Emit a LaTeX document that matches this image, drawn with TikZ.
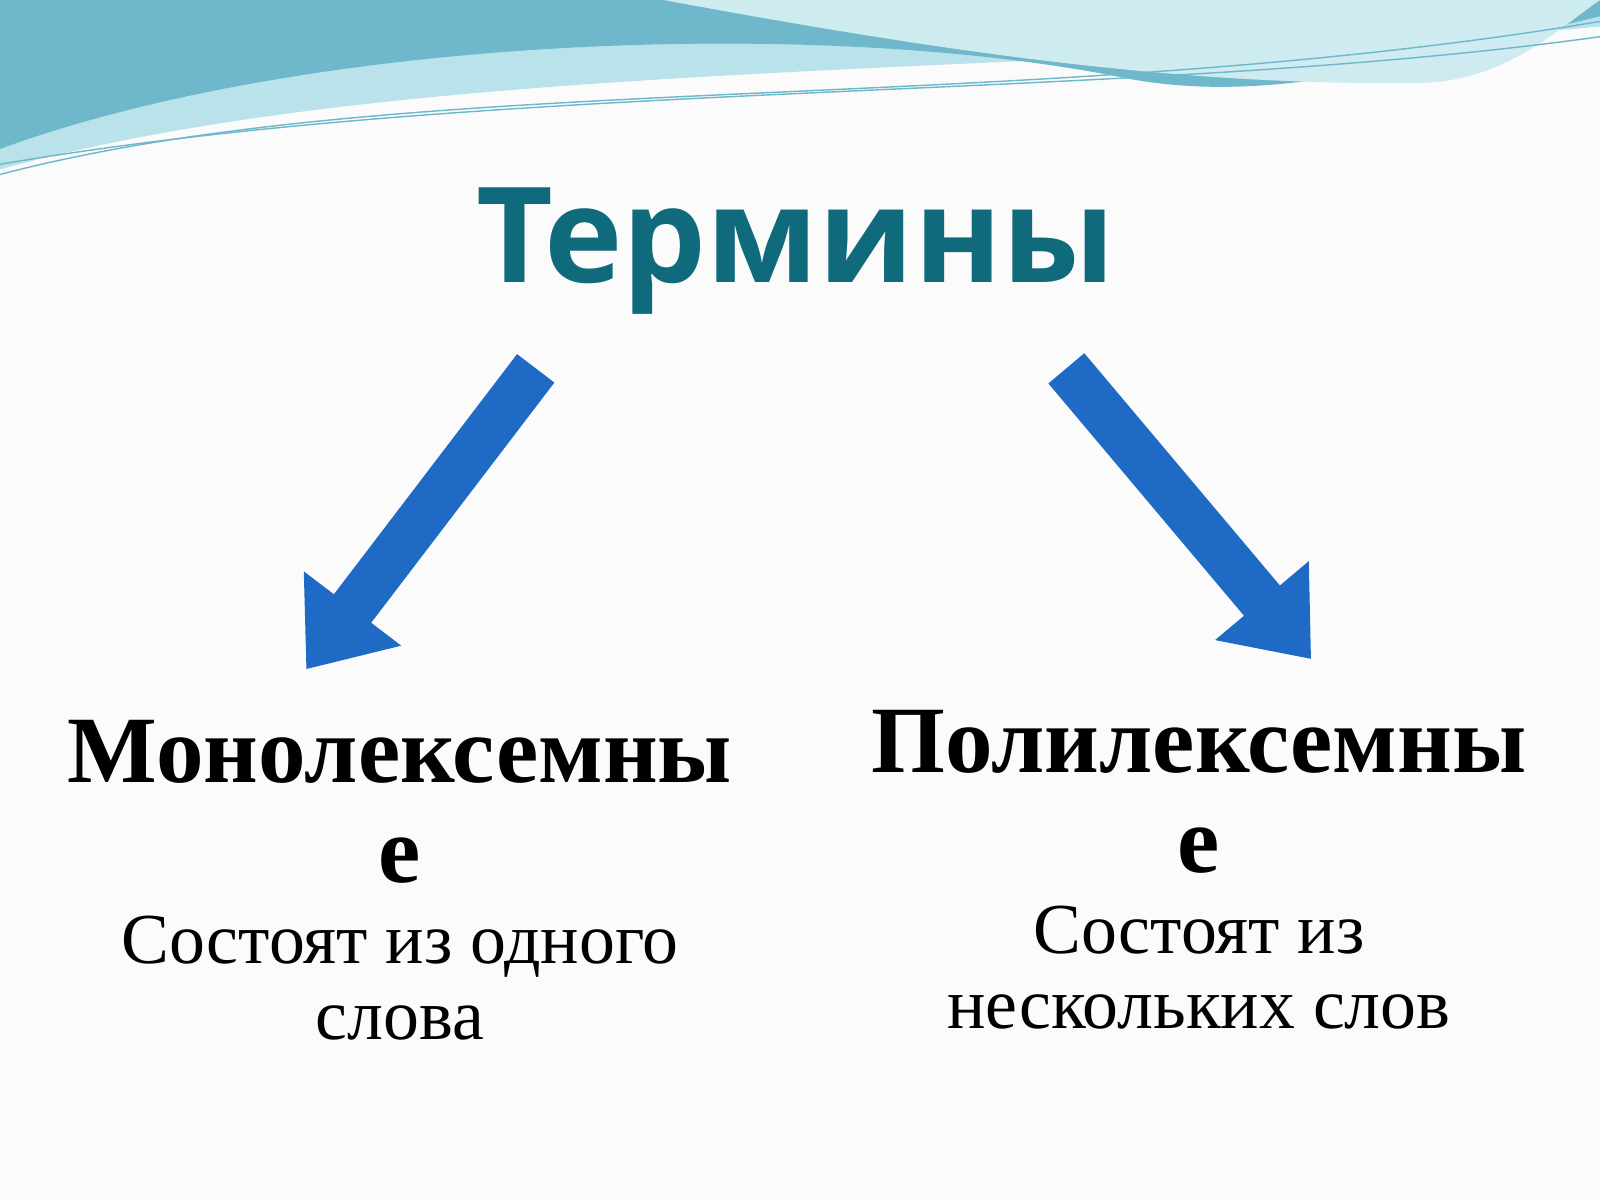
\documentclass[tikz,border=0pt]{standalone}
\usepackage{fontspec}
\setmainfont{Liberation Serif}
\newfontfamily\titlefont{Open Sans}
\usetikzlibrary{arrows.meta, positioning}
\definecolor{wavedark}{HTML}{6FB8CC}
\definecolor{wavelight}{HTML}{B9E2EA}
\definecolor{titleteal}{HTML}{0F6B7B}
\definecolor{arrowblue}{HTML}{1E6AC4}
\tikzset{
  big arrow/.style={line width=0.46cm, arrowblue, -{Triangle[width=1.15cm, length=0.75cm]}},
  head/.style={font=\bfseries\fontsize{26.5}{30}\selectfont, align=center},
  note/.style={font=\fontsize{20}{21}\selectfont, align=center}
}
\begin{document}
\begin{tikzpicture}
    \useasboundingbox[fill=white!97!gray] (0,0) rectangle (15.68,11.76);
    % waves at the top
    \fill[wavelight] (0,11.76) -- (0,10.1) .. controls (4,11.2) and (10,11.0) .. (15.68,11.5) -- (15.68,11.76) -- cycle;
    \fill[wavedark] (0,11.76) -- (0,10.3) .. controls (3,11.4) and (8,11.6) .. (11,11.0) .. controls (12.5,10.7) and (14,11.2) .. (15.68,11.6) -- (15.68,11.76) -- cycle;
    \fill[wavelight!70!white] (6.5,11.76) .. controls (9,11.3) and (11.5,10.9) .. (14,10.95) .. controls (14.8,11.0) and (15.3,11.5) .. (15.68,11.76) -- cycle;
    \draw[wavedark, thin] (0,10.05) .. controls (4,11.1) and (10,10.6) .. (15.68,11.55);
    \draw[wavedark, thin] (0,10.15) .. controls (5,11.0) and (11,10.75) .. (15.68,11.4);
    % title
    \node[font=\titlefont\bfseries\fontsize{37}{40}\selectfont, text=titleteal] (terms) at (7.8,9.3) {Термины};
    % arrows
    \coordinate (lstart) at (5.25,8.15);
    \coordinate (lend) at (3.0,5.2);
    \coordinate (rstart) at (10.45,8.15);
    \coordinate (rend) at (12.85,5.3);
    \draw[big arrow] (lstart) -- (lend);
    \draw[big arrow] (rstart) -- (rend);
    % branches
    \node[head] (mono) at (3.92,3.9) {Монолексемны\\[-2pt]е};
    \node[note, below=2pt of mono] (monotext) {Состоят из одного\\слова};
    \node[head] (poly) at (11.75,4.0) {Полилексемны\\[-2pt]е};
    \node[note, below=2pt of poly] (polytext) {Состоят из\\нескольких слов};
\end{tikzpicture}
\end{document}
